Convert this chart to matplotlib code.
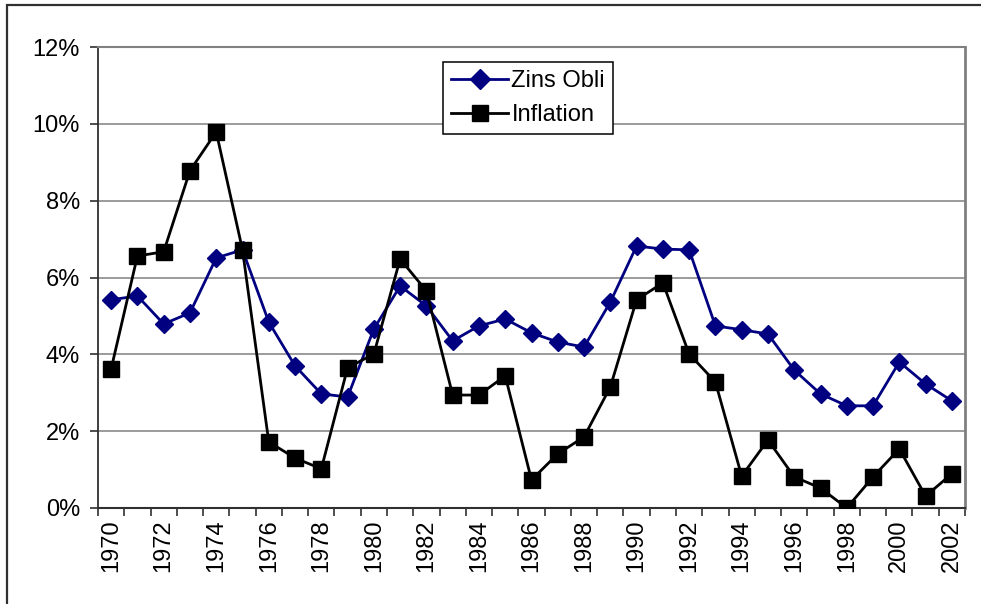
import numpy as np
import matplotlib
matplotlib.use("Agg")
import matplotlib.pyplot as plt
from matplotlib.patches import Rectangle
from matplotlib.ticker import PercentFormatter

plt.rcParams['font.family'] = ['Liberation Sans', 'DejaVu Sans']

years = list(range(1970, 2003))
zins_obli = [5.42, 5.52, 4.79, 5.08, 6.51, 6.72, 4.84, 3.70, 2.97, 2.89,
             4.66, 5.78, 5.26, 4.35, 4.74, 4.92, 4.56, 4.32, 4.19, 5.36,
             6.82, 6.74, 6.72, 4.74, 4.64, 4.53, 3.59, 2.97, 2.66, 2.66,
             3.80, 3.23, 2.79]
inflation = [3.62, 6.56, 6.67, 8.78, 9.79, 6.72, 1.72, 1.30, 1.02, 3.65,
             4.01, 6.48, 5.65, 2.94, 2.94, 3.44, 0.73, 1.41, 1.85, 3.15,
             5.42, 5.86, 4.01, 3.28, 0.83, 1.77, 0.81, 0.52, 0.00, 0.81,
             1.54, 0.31, 0.89]
yticks = [0, 2, 4, 6, 8, 10, 12]

W, H = 981, 604
fig = plt.figure(figsize=(W / 100, H / 100), dpi=100)

# outer chart frame (cropped on right and bottom like the screenshot)
fig.patches.append(Rectangle((7 / W, -0.05), 1.1, 1 - 5 / H + 0.05,
                             transform=fig.transFigure, fill=False,
                             edgecolor='#303030', linewidth=1.6))

ax = fig.add_axes([98 / W, (H - 508) / H, (965 - 98) / W, (508 - 47) / H])

x = np.arange(len(years))
ax.plot(x, zins_obli, color='#000080', linewidth=2, marker='D',
        markersize=9, label='Zins Obli', zorder=3)
ax.plot(x, inflation, color='black', linewidth=2, marker='s',
        markersize=11, label='Inflation', zorder=4)

ax.set_xlim(-0.5, len(years) - 0.5)
ax.set_ylim(0, 12)
ax.set_yticks(yticks)
ax.yaxis.set_major_formatter(PercentFormatter(decimals=0))
ax.yaxis.grid(True, color='#808080', linewidth=1.1)
ax.set_axisbelow(True)

# category labels every other year, tick marks between categories
ax.set_xticks(x[::2])
ax.set_xticklabels([str(y) for y in years[::2]], rotation=90)
ax.set_xticks(np.arange(-0.5, len(years), 1), minor=True)
ax.tick_params(axis='x', which='major', length=0, pad=8)
ax.tick_params(axis='x', which='minor', length=6, width=1.2, color='#303030')
ax.tick_params(axis='y', length=6, width=1.2, color='#303030', pad=7)
ax.tick_params(labelsize=17)

ax.spines['left'].set_color('#303030')
ax.spines['left'].set_linewidth(1.3)
ax.spines['bottom'].set_color('#303030')
ax.spines['bottom'].set_linewidth(1.5)
ax.spines['top'].set_color('#808080')
ax.spines['top'].set_linewidth(1.5)
ax.spines['right'].set_color('#808080')
ax.spines['right'].set_linewidth(2)
for s in ax.spines.values():
    s.set_clip_on(False)

leg = ax.legend(loc='upper left', bbox_to_anchor=((443 - 98) / 867, (508 - 62) / 461),
                fontsize=17, frameon=True, fancybox=False, framealpha=1,
                edgecolor='black', borderpad=0.35, labelspacing=0.5,
                handlelength=2.4, handletextpad=0.15, borderaxespad=0,
                markerscale=1.1)
leg.get_frame().set_linewidth(1.1)

fig.savefig('out.png', dpi=100)
